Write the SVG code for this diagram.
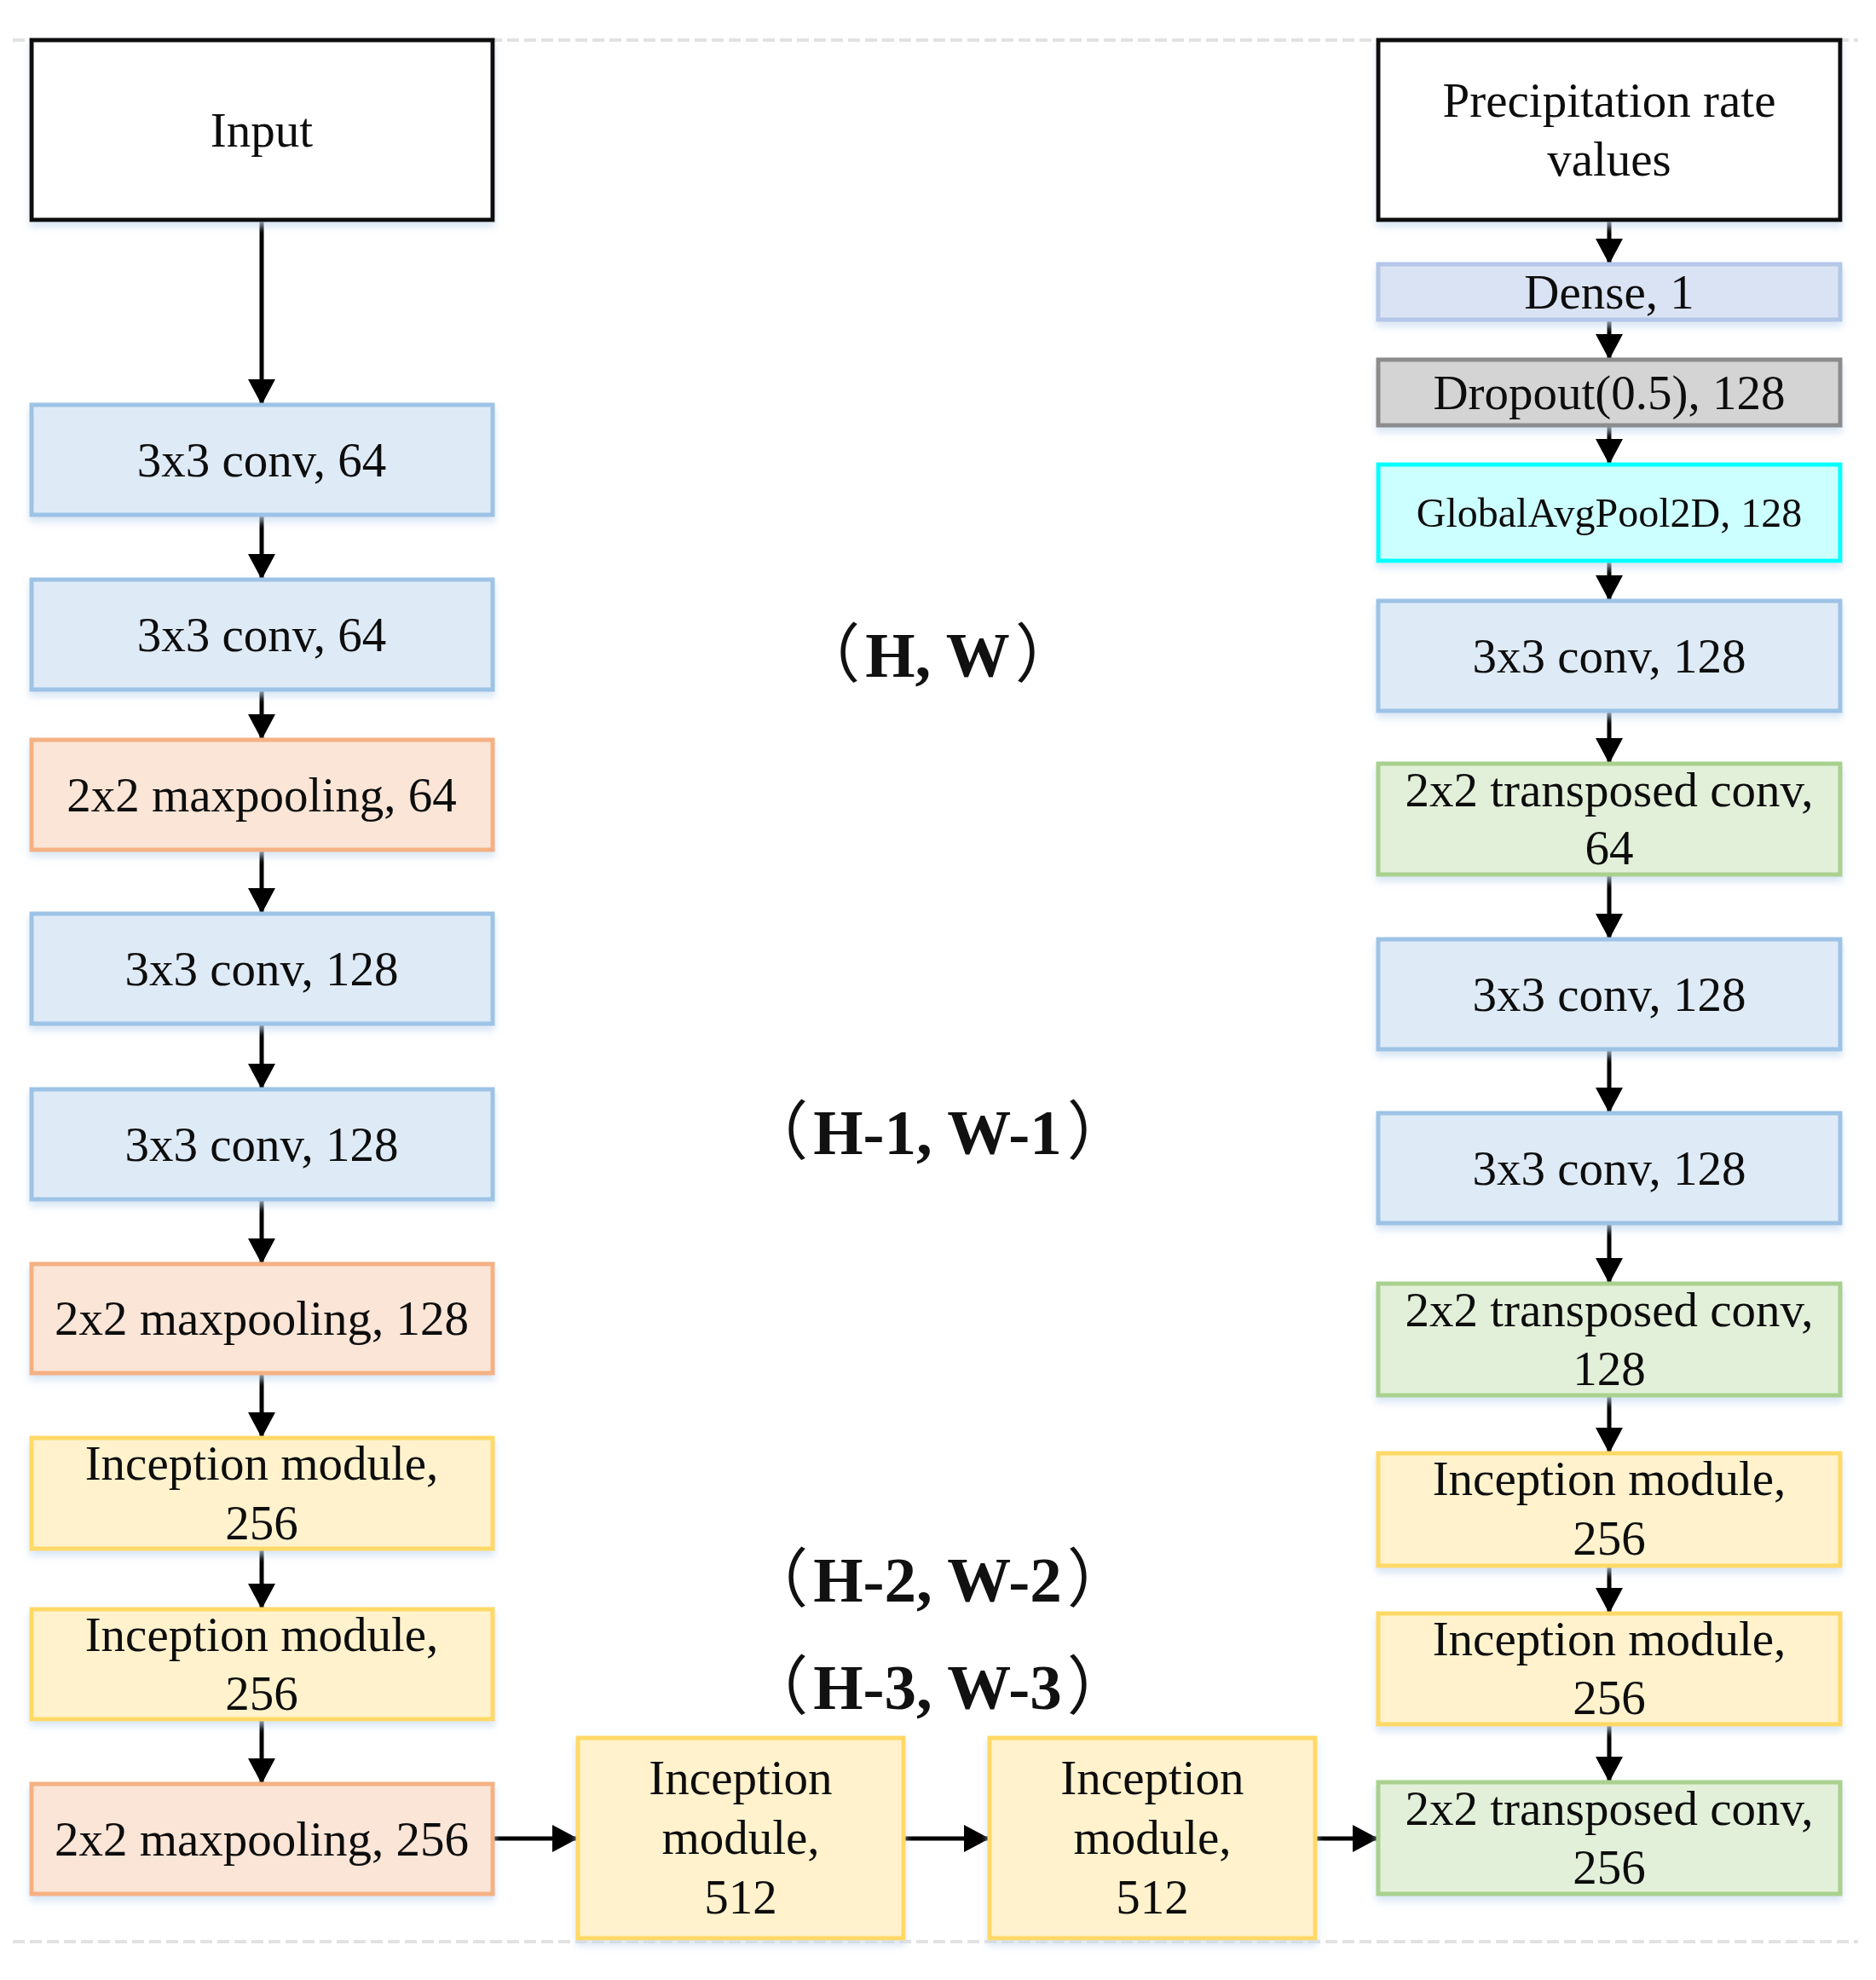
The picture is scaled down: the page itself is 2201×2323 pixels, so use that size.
<svg xmlns="http://www.w3.org/2000/svg" width="2201" height="2323" viewBox="0 0 2201 2323">
<style>
text{font-family:"Liberation Serif","Times New Roman",serif;font-size:57px;fill:#111;text-anchor:middle}
.lbl{font-family:"Liberation Serif","Noto Sans CJK SC",serif;font-weight:bold;font-size:75px}
.p{font-weight:normal}
.small{font-size:48px}
rect{stroke-width:5}
.io{fill:#fff;stroke:#111}
.conv{fill:#DEEBF7;stroke:#9DC3E6}
.pool{fill:#FBE5D6;stroke:#F4B183}
.inc{fill:#FFF2CC;stroke:#FFD966}
.tc{fill:#E2F0D9;stroke:#A9D18E}
.dense{fill:#DAE3F3;stroke:#B4C7E7}
.drop{fill:#D4D4D4;stroke:#8C8C8C}
.gap{fill:#CCFFFF;stroke:#00FFFF}
.edge{stroke:#000;stroke-width:5;fill:none;marker-end:url(#arr)}
.dash{stroke:#E2E2E2;stroke-width:4;stroke-dasharray:14 6}
</style>
<defs>
<marker id="arr" markerUnits="userSpaceOnUse" markerWidth="32" markerHeight="32" viewBox="0 0 30 32" refX="30" refY="16" orient="auto">
<path d="M0,0 L30,16 L0,32 Z" fill="#000"/>
</marker>
<filter id="sh" x="-5%" y="-5%" width="110%" height="130%">
<feDropShadow dx="0" dy="6" stdDeviation="4" flood-color="#C8DAF0" flood-opacity="0.7"/>
</filter>
</defs>
<rect width="2201" height="2323" fill="#fff" stroke="none"/>
<line class="dash" x1="15" y1="47" x2="2180" y2="47"/>
<line class="dash" x1="15" y1="2278" x2="2180" y2="2278"/>

<g id="edges">
<line class="edge" x1="307" y1="258" x2="307" y2="475"/>
<line class="edge" x1="307" y1="604" x2="307" y2="680"/>
<line class="edge" x1="307" y1="809" x2="307" y2="868"/>
<line class="edge" x1="307" y1="997" x2="307" y2="1072"/>
<line class="edge" x1="307" y1="1201" x2="307" y2="1278"/>
<line class="edge" x1="307" y1="1407" x2="307" y2="1483"/>
<line class="edge" x1="307" y1="1611" x2="307" y2="1687"/>
<line class="edge" x1="307" y1="1817" x2="307" y2="1888"/>
<line class="edge" x1="307" y1="2017" x2="307" y2="2093"/>
<line class="edge" x1="578" y1="2157" x2="678" y2="2157"/>
<line class="edge" x1="1060" y1="2157" x2="1161" y2="2157"/>
<line class="edge" x1="1543" y1="2157" x2="1617" y2="2157"/>
<line class="edge" x1="1888" y1="258" x2="1888" y2="310"/>
<line class="edge" x1="1888" y1="375" x2="1888" y2="422"/>
<line class="edge" x1="1888" y1="499" x2="1888" y2="545"/>
<line class="edge" x1="1888" y1="658" x2="1888" y2="705"/>
<line class="edge" x1="1888" y1="834" x2="1888" y2="896"/>
<line class="edge" x1="1888" y1="1026" x2="1888" y2="1102"/>
<line class="edge" x1="1888" y1="1231" x2="1888" y2="1306"/>
<line class="edge" x1="1888" y1="1435" x2="1888" y2="1506"/>
<line class="edge" x1="1888" y1="1637" x2="1888" y2="1705"/>
<line class="edge" x1="1888" y1="1837" x2="1888" y2="1893"/>
<line class="edge" x1="1888" y1="2023" x2="1888" y2="2091"/>
</g>

<g id="input" filter="url(#sh)"><rect class="io" x="37" y="47" width="541" height="211"/><text x="307" y="172">Input</text></g>
<g id="l_conv1" filter="url(#sh)"><rect class="conv" x="37" y="475" width="541" height="129"/><text x="307" y="559">3x3 conv, 64</text></g>
<g id="l_conv2" filter="url(#sh)"><rect class="conv" x="37" y="680" width="541" height="129"/><text x="307" y="764">3x3 conv, 64</text></g>
<g id="l_pool1" filter="url(#sh)"><rect class="pool" x="37" y="868" width="541" height="129"/><text x="307" y="952">2x2 maxpooling, 64</text></g>
<g id="l_conv3" filter="url(#sh)"><rect class="conv" x="37" y="1072" width="541" height="129"/><text x="307" y="1156">3x3 conv, 128</text></g>
<g id="l_conv4" filter="url(#sh)"><rect class="conv" x="37" y="1278" width="541" height="129"/><text x="307" y="1362">3x3 conv, 128</text></g>
<g id="l_pool2" filter="url(#sh)"><rect class="pool" x="37" y="1483" width="541" height="128"/><text x="307" y="1566">2x2 maxpooling, 128</text></g>
<g id="l_inc1" filter="url(#sh)"><rect class="inc" x="37" y="1687" width="541" height="130"/><text x="307" y="1736">Inception module,</text><text x="307" y="1806">256</text></g>
<g id="l_inc2" filter="url(#sh)"><rect class="inc" x="37" y="1888" width="541" height="129"/><text x="307" y="1937">Inception module,</text><text x="307" y="2006">256</text></g>
<g id="l_pool3" filter="url(#sh)"><rect class="pool" x="37" y="2093" width="541" height="129"/><text x="307" y="2177">2x2 maxpooling, 256</text></g>

<g id="m_inc1" filter="url(#sh)"><rect class="inc" x="678" y="2039" width="382" height="235"/><text x="869" y="2105">Inception</text><text x="869" y="2175">module,</text><text x="869" y="2245">512</text></g>
<g id="m_inc2" filter="url(#sh)"><rect class="inc" x="1161" y="2039" width="382" height="235"/><text x="1352" y="2105">Inception</text><text x="1352" y="2175">module,</text><text x="1352" y="2245">512</text></g>

<g id="output" filter="url(#sh)"><rect class="io" x="1617" y="47" width="542" height="211"/><text x="1888" y="137">Precipitation rate</text><text x="1888" y="206">values</text></g>
<g id="r_dense" filter="url(#sh)"><rect class="dense" x="1617" y="310" width="542" height="65"/><text x="1888" y="362">Dense, 1</text></g>
<g id="r_drop" filter="url(#sh)"><rect class="drop" x="1617" y="422" width="542" height="77"/><text x="1888" y="480">Dropout(0.5), 128</text></g>
<g id="r_gap" filter="url(#sh)"><rect class="gap" x="1617" y="545" width="542" height="113"/><text class="small" x="1888" y="618">GlobalAvgPool2D, 128</text></g>
<g id="r_conv1" filter="url(#sh)"><rect class="conv" x="1617" y="705" width="542" height="129"/><text x="1888" y="789">3x3 conv, 128</text></g>
<g id="r_tc1" filter="url(#sh)"><rect class="tc" x="1617" y="896" width="542" height="130"/><text x="1888" y="946">2x2 transposed conv,</text><text x="1888" y="1014">64</text></g>
<g id="r_conv2" filter="url(#sh)"><rect class="conv" x="1617" y="1102" width="542" height="129"/><text x="1888" y="1186">3x3 conv, 128</text></g>
<g id="r_conv3" filter="url(#sh)"><rect class="conv" x="1617" y="1306" width="542" height="129"/><text x="1888" y="1390">3x3 conv, 128</text></g>
<g id="r_tc2" filter="url(#sh)"><rect class="tc" x="1617" y="1506" width="542" height="131"/><text x="1888" y="1556">2x2 transposed conv,</text><text x="1888" y="1625">128</text></g>
<g id="r_inc1" filter="url(#sh)"><rect class="inc" x="1617" y="1705" width="542" height="132"/><text x="1888" y="1754">Inception module,</text><text x="1888" y="1824">256</text></g>
<g id="r_inc2" filter="url(#sh)"><rect class="inc" x="1617" y="1893" width="542" height="130"/><text x="1888" y="1942">Inception module,</text><text x="1888" y="2011">256</text></g>
<g id="r_tc3" filter="url(#sh)"><rect class="tc" x="1617" y="2091" width="542" height="131"/><text x="1888" y="2141">2x2 transposed conv,</text><text x="1888" y="2210">256</text></g>

<g id="labels">
<text class="lbl" x="1100" y="794"><tspan class="p">（</tspan><tspan dx="6">H, W</tspan><tspan class="p" dx="6">）</tspan></text>
<text class="lbl" x="1100" y="1354"><tspan class="p">（</tspan><tspan dx="6">H-1, W-1</tspan><tspan class="p" dx="6">）</tspan></text>
<text class="lbl" x="1100" y="1879"><tspan class="p">（</tspan><tspan dx="6">H-2, W-2</tspan><tspan class="p" dx="6">）</tspan></text>
<text class="lbl" x="1100" y="2005"><tspan class="p">（</tspan><tspan dx="6">H-3, W-3</tspan><tspan class="p" dx="6">）</tspan></text>
</g>
</svg>
